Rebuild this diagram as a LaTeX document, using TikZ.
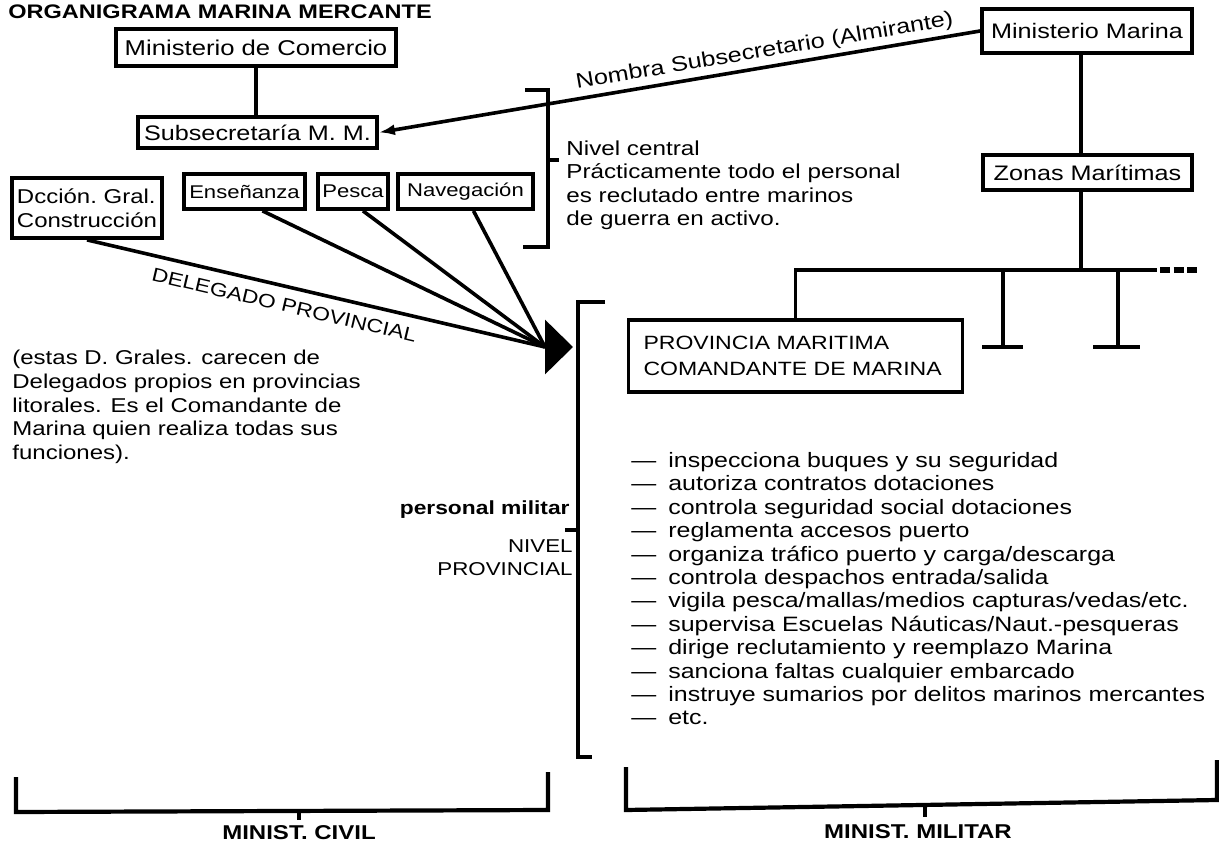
\documentclass[tikz,border=0pt]{standalone}
\usepackage{fontspec}
\setmainfont[FakeStretch=1.2]{Liberation Sans}
\usetikzlibrary{arrows.meta}

\begin{document}
\begin{tikzpicture}[x=0.5pt,y=-0.5pt,font=\fontsize{10}{11.8}\selectfont,
  org/.style={draw,line width=1.9pt,inner sep=0pt,align=center},
  link/.style={line width=1.8pt},
  brace/.style={line width=2.1pt},
  txt/.style={inner sep=0pt,align=left}]
\useasboundingbox (0,0) rectangle (1219,849);

\node[anchor=west,inner sep=0pt,font=\bfseries\fontsize{9.8}{11}\selectfont] (title) at (8,12) {ORGANIGRAMA MARINA MERCANTE};

% civil side
\node[org,minimum width=140pt,minimum height=18.5pt,font=\fontsize{10.7}{12}\selectfont] (mcom) at (256,47.5) {Ministerio de Comercio};
\node[org,minimum width=119.5pt,minimum height=15.5pt,font=\fontsize{10.5}{12}\selectfont] (subs) at (257.5,132.5) {Subsecretaría M.\ M.};

\node[org,minimum width=75pt,minimum height=30pt,align=left] (dgc) at (87,208) {Dcción.\ Gral.\\Construcción};
\node[org,minimum width=60.5pt,minimum height=17.5pt,font=\fontsize{9.2}{11}\selectfont] (ens) at (244.5,191.5) {Enseñanza};
\node[org,minimum width=35pt,minimum height=17.5pt,font=\fontsize{9.2}{11}\selectfont] (pes) at (353,191.5) {Pesca};
\node[org,minimum width=67.5pt,minimum height=17.5pt,font=\fontsize{9.2}{11}\selectfont] (nav) at (465.5,191.5) {Navegación};

\draw[link] (mcom.south) -- (mcom.south |- subs.north);

% military side
\node[org,minimum width=105pt,minimum height=22pt,font=\fontsize{10.5}{12}\selectfont] (mmar) at (1087,31) {Ministerio Marina};
\node[org,minimum width=104.5pt,minimum height=17.5pt,font=\fontsize{10.5}{12}\selectfont] (zon) at (1087.5,172.5) {Zonas Marítimas};
\node[org,minimum height=36pt,text width=152pt,inner xsep=7.5pt,align=left,font=\fontsize{9.6}{13}\selectfont] (prov) at (795.5,356) {PROVINCIA MARITIMA\\COMANDANTE DE MARINA};

\coordinate (zj) at (1081,270);
\coordinate (hl) at (795.5,270);
\coordinate (hr) at (1157,270);
\coordinate (hd) at (1198,270);
\coordinate (t1) at (1003,270);
\coordinate (t1b) at (1003,347);
\coordinate (t2) at (1118,270);
\coordinate (t2b) at (1118,347);

\draw[link] (mmar.south -| zj) -- (zon.north -| zj);
\draw[link] (zon.south -| zj) -- (zj);
\draw[link] (prov.north) -- (hl) -- (hr);
\draw[line width=2.6pt,dash pattern=on 5pt off 1.8pt] (hr) ++(1.5pt,0) -- (hd);
\draw[link] (t1) -- (t1b);
\draw[link] ([xshift=-10.5pt]t1b) -- ([xshift=10pt]t1b);
\draw[link] (t2) -- (t2b);
\draw[link] ([xshift=-12.5pt]t2b) -- ([xshift=11pt]t2b);

\draw[link,-{Latex[length=8pt,width=5.5pt]}] (mmar.west) -- node[pos=0.354,above=2pt,sloped,inner sep=0pt,font=\fontsize{10.5}{12}\selectfont] {Nombra Subsecretario (Almirante)} (subs.east);

% delegados
\coordinate (hub) at (545,347);
\coordinate (tip) at (573,347);
\draw[link] (dgc.south) -- node[pos=0.44,below=5pt,sloped,inner sep=0pt,font=\fontsize{9.5}{11}\selectfont] {DELEGADO PROVINCIAL} (hub);
\draw[link] ([xshift=9pt]ens.south) -- (hub);
\draw[link] ([xshift=5pt]pes.south) -- (hub);
\draw[link] ([xshift=4pt]nav.south) -- (hub);
\draw[link,-{Triangle[length=14pt,width=27pt]}] (hub) -- (tip);

% nivel central
\draw[brace] (525,90) -- (548,90) -- (548,247) -- (523,247);
\draw[brace] (548,160) -- (559,160);
\node[txt,anchor=north west,font=\fontsize{10.1}{11.8}\selectfont] (central) at (566,140)
  {Nivel central\\Prácticamente todo el personal\\es reclutado entre marinos\\de guerra en activo.};

\node[txt,anchor=north west] (nota) at (12,350)
  {(estas D. Grales. carecen de\\Delegados propios en provincias\\litorales. Es el Comandante de\\Marina quien realiza todas sus\\funciones).};

% nivel provincial
\draw[brace] (605,302) -- (578,302) -- (578,757) -- (592,757);
\draw[brace] (578,530) -- (565,530);
\node[anchor=east,inner sep=0pt,font=\bfseries\fontsize{9.5}{11}\selectfont] (pmil) at (570,510) {personal militar};
\node[txt,align=right,anchor=north east,font=\fontsize{9.3}{11.5}\selectfont] (nprov) at (573,539) {NIVEL\\PROVINCIAL};

\node[txt,anchor=north west,font=\fontsize{10.4}{11.7}\selectfont] (funciones) at (631,452)
  {---\hspace{6pt}inspecciona buques y su seguridad\\
   ---\hspace{6pt}autoriza contratos dotaciones\\
   ---\hspace{6pt}controla seguridad social dotaciones\\
   ---\hspace{6pt}reglamenta accesos puerto\\
   ---\hspace{6pt}organiza tráfico puerto y carga/descarga\\
   ---\hspace{6pt}controla despachos entrada/salida\\
   ---\hspace{6pt}vigila pesca/mallas/medios capturas/vedas/etc.\\
   ---\hspace{6pt}supervisa Escuelas Náuticas/Naut.-pesqueras\\
   ---\hspace{6pt}dirige reclutamiento y reemplazo Marina\\
   ---\hspace{6pt}sanciona faltas cualquier embarcado\\
   ---\hspace{6pt}instruye sumarios por delitos marinos mercantes\\
   ---\hspace{6pt}etc.};

% ministerios
\draw[brace] (16,777) -- (16,812) -- (548,810) -- (548,772);
\draw[brace] (299,811) -- (299,820);
\node[inner sep=0pt,font=\bfseries\fontsize{10}{12}\selectfont] (civil) at (299,833) {MINIST. CIVIL};
\draw[brace] (626,767) -- (626,810) -- (1217,800) -- (1217,760);
\draw[brace] (925,805) -- (925,817);
\node[inner sep=0pt,font=\bfseries\fontsize{10}{12}\selectfont] (militar) at (918,832) {MINIST. MILITAR};

\end{tikzpicture}
\end{document}
